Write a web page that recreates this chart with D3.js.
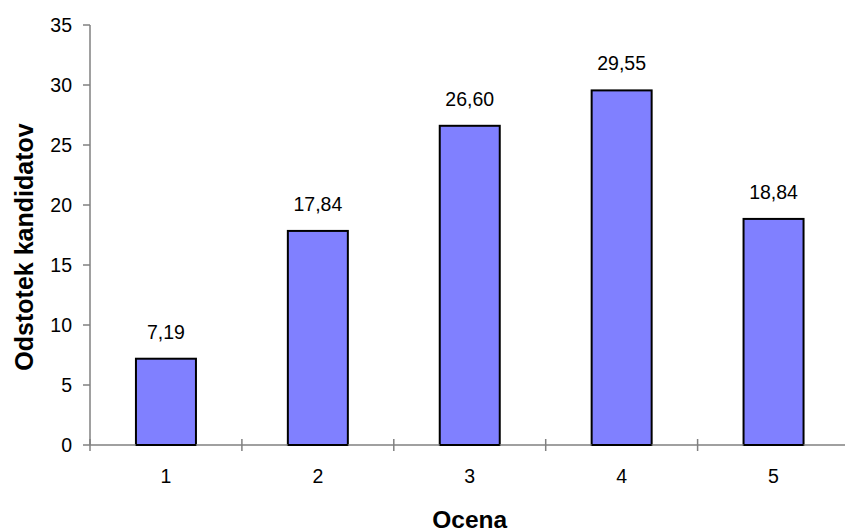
<!DOCTYPE html>
<html>
<head>
<meta charset="utf-8">
<script src="https://cdn.jsdelivr.net/npm/d3@7"></script>
<style>
  html, body { margin: 0; padding: 0; background: #fff; }
  svg { display: block; font-family: "Liberation Sans", Arial, sans-serif; }
</style>
</head>
<body>
<svg id="chart" width="845" height="532"></svg>
<script>
// grade -> share of candidates (%)
const grades = ["1", "2", "3", "4", "5"];
const shares = [7.19, 17.84, 26.60, 29.55, 18.84];
const yTicks = [0, 5, 10, 15, 20, 25, 30, 35];

const fmt = (v) => v.toFixed(2).replace(".", ",");

const W = 845, H = 532;
const M = { left: 90, top: 25, bottom: 445 };
const step = 151.9;
const axisColor = "#808080";

const svg = d3.select("#chart");

const x = d3.scaleBand().domain(grades)
  .range([M.left, M.left + step * grades.length]).paddingInner(0).paddingOuter(0);
const y = d3.scaleLinear().domain([0, 35]).range([M.bottom, M.top]);
const barW = x.bandwidth() * 0.395;

// ----- bars -----
svg.append("g").selectAll("rect")
  .data(grades).join("rect")
  .attr("x", (d) => x(d) + (x.bandwidth() - barW) / 2)
  .attr("y", (d, i) => y(shares[i]))
  .attr("width", barW)
  .attr("height", (d, i) => y(0) - y(shares[i]))
  .attr("fill", "#8080ff").attr("stroke", "#000").attr("stroke-width", 2);

// value labels
svg.append("g").selectAll("text")
  .data(grades).join("text")
  .attr("x", (d) => x(d) + x.bandwidth() / 2)
  .attr("y", (d, i) => y(shares[i]) - 20)
  .attr("text-anchor", "middle").attr("font-size", 19.5).attr("fill", "#000")
  .text((d, i) => fmt(shares[i]));

// ----- y axis -----
const ya = svg.append("g");
ya.append("line").attr("x1", M.left).attr("x2", M.left)
  .attr("y1", y(35)).attr("y2", y(0))
  .attr("stroke", axisColor).attr("stroke-width", 1.5);
ya.selectAll("line.tk").data(yTicks).join("line").attr("class", "tk")
  .attr("x1", M.left - 7).attr("x2", M.left)
  .attr("y1", (d) => y(d)).attr("y2", (d) => y(d))
  .attr("stroke", axisColor).attr("stroke-width", 1.5);
ya.selectAll("text").data(yTicks).join("text")
  .attr("x", M.left - 18).attr("y", (d) => y(d)).attr("dy", "0.35em")
  .attr("text-anchor", "end").attr("font-size", 19.5).attr("fill", "#000")
  .text((d) => d);

// ----- x axis -----
const xa = svg.append("g");
const xr = x.range();
xa.append("line").attr("x1", xr[0]).attr("x2", xr[1])
  .attr("y1", y(0)).attr("y2", y(0))
  .attr("stroke", axisColor).attr("stroke-width", 1.5);
const bounds = grades.map((g) => x(g)).concat([xr[1]]);
xa.selectAll("line.tk").data(bounds).join("line").attr("class", "tk")
  .attr("x1", (d) => d).attr("x2", (d) => d)
  .attr("y1", y(0) - 6).attr("y2", y(0) + 6)
  .attr("stroke", axisColor).attr("stroke-width", 1.5);
xa.selectAll("text").data(grades).join("text")
  .attr("x", (d) => x(d) + x.bandwidth() / 2).attr("y", y(0) + 38)
  .attr("text-anchor", "middle").attr("font-size", 19.5).attr("fill", "#000")
  .text((d) => d);

// redraw bar bottoms over the axis line
svg.append("g").selectAll("line")
  .data(grades).join("line")
  .attr("x1", (d) => x(d) + (x.bandwidth() - barW) / 2)
  .attr("x2", (d) => x(d) + (x.bandwidth() + barW) / 2)
  .attr("y1", y(0)).attr("y2", y(0))
  .attr("stroke", "#000").attr("stroke-width", 2);

// ----- titles -----
svg.append("text")
  .attr("x", (xr[0] + xr[1]) / 2).attr("y", 528)
  .attr("text-anchor", "middle").attr("font-size", 24.5).attr("font-weight", "bold")
  .text("Ocena");
svg.append("text")
  .attr("transform", "translate(33,247) rotate(-90)")
  .attr("text-anchor", "middle").attr("font-size", 25).attr("font-weight", "bold")
  .text("Odstotek kandidatov");
</script>
</body>
</html>
